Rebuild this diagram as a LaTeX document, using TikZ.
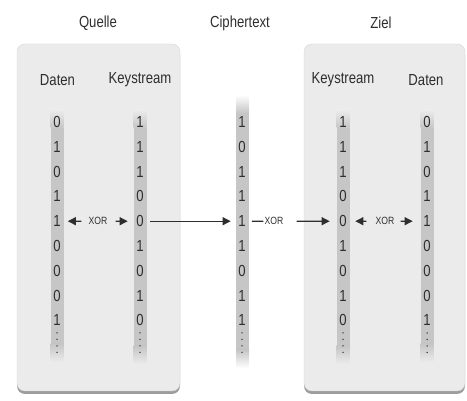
\documentclass[tikz,border=0pt]{standalone}
\usepackage{fontspec}
\setmainfont{Liberation Sans}[FakeStretch=0.82]
\usetikzlibrary{arrows.meta, shadows}
\definecolor{boxgray}{HTML}{EBEBEB}
\definecolor{stripgray}{HTML}{C6C6C6}
\definecolor{inkgray}{HTML}{2E2E2E}

\begin{document}
\begin{tikzpicture}[
    x=1pt, y=-1pt,
    panel/.style={
        fill=boxgray,
        draw=black!16,
        rounded corners=8pt,
        drop shadow={shadow xshift=0pt, shadow yshift=-3pt,
            opacity=0.7, fill=black!55}
    },
    bit/.style={inner sep=0pt, font=\fontsize{16}{16}\selectfont, text=inkgray},
    head/.style={inner sep=0pt, font=\fontsize{16}{16}\selectfont, text=inkgray},
    xorlabel/.style={inner sep=0pt, font=\fontsize{10.5}{10.5}\selectfont, text=inkgray},
    xarr/.style={
        draw=inkgray,
        line width=1.2pt,
        -{Triangle[length=8pt, width=8pt]}
    }
]
\useasboundingbox (0,0) rectangle (467,401);

% --- MACRO: GRAY STRIP BEHIND A COLUMN ---
\newcommand{\drawstrip}[4]{
    \fill[stripgray] (#1-6.5, #2+18) rectangle (#1+6.5, #3-18);
    \shade[top color=#4, bottom color=stripgray]
        (#1-6.5, #2) rectangle (#1+6.5, #2+18);
    \shade[top color=stripgray, bottom color=#4]
        (#1-6.5, #3-18) rectangle (#1+6.5, #3);
}

% --- MACRO: COLUMN OF BITS ---
\newcommand{\drawbits}[3]{
    \foreach \b [count=\i] in {#3}
        \node[bit] (#1\i) at (#2, {122+24.8*(\i-1)}) {\b};
    \foreach \j in {0,...,3}
        \fill[inkgray] (#2, 333+6.5*\j) circle (0.75);
}

% --- PANELS ---
\path[panel] (17,44) rectangle (180,391);
\path[panel] (304,44) rectangle (465,391);

% --- TITLES ---
\node[head] (tQuelle) at (98,23) {Quelle};
\node[head] (tCipher) at (240,23) {Ciphertext};
\node[head] (tZiel) at (381,23) {Ziel};

\node[head] (hDatenL) at (57.5,80) {Daten};
\node[head] (hKeyL) at (140,80) {Keystream};
\node[head] (hKeyR) at (343,80) {Keystream};
\node[head] (hDatenR) at (426,80) {Daten};

% --- STRIPS ---
\drawstrip{57}{110}{362}{boxgray}
\drawstrip{140}{110}{364}{boxgray}
\drawstrip{242.5}{95}{368}{white}
\drawstrip{343}{110}{364}{boxgray}
\drawstrip{427}{110}{362}{boxgray}

% --- BITS ---
\drawbits{dL}{57}{0,1,0,1,1,0,0,0,1}
\drawbits{kL}{140}{1,1,1,0,0,1,0,1,0}
\drawbits{c}{242}{1,0,1,1,1,1,0,1,1}
\drawbits{kR}{343}{1,1,1,0,0,1,0,1,0}
\drawbits{dR}{427}{0,1,0,1,1,0,0,0,1}

% --- XOR LABELS ---
\node[xorlabel] (xorL) at (98,221.2) {XOR};
\node[xorlabel] (xorM) at (274,221.2) {XOR};
\node[xorlabel] (xorR) at (385,221.2) {XOR};

% --- ARROWS ---
\draw[xarr, shorten <=7pt, shorten >=7pt] (xorL) -- (dL5);
\draw[xarr, shorten <=8pt, shorten >=8.5pt] (xorL) -- (kL5);
\draw[xarr, shorten <=6.5pt, shorten >=7.5pt] (kL5) -- (c5);
\draw[inkgray, line width=1.2pt, shorten <=6pt, shorten >=1pt] (c5) -- (xorM);
\draw[xarr, shorten <=13pt, shorten >=9.5pt] (xorM) -- (kR5);
\draw[xarr, shorten <=9pt, shorten >=8.5pt] (xorR) -- (kR5);
\draw[xarr, shorten <=6pt, shorten >=10.5pt] (xorR) -- (dR5);

\end{tikzpicture}
\end{document}
